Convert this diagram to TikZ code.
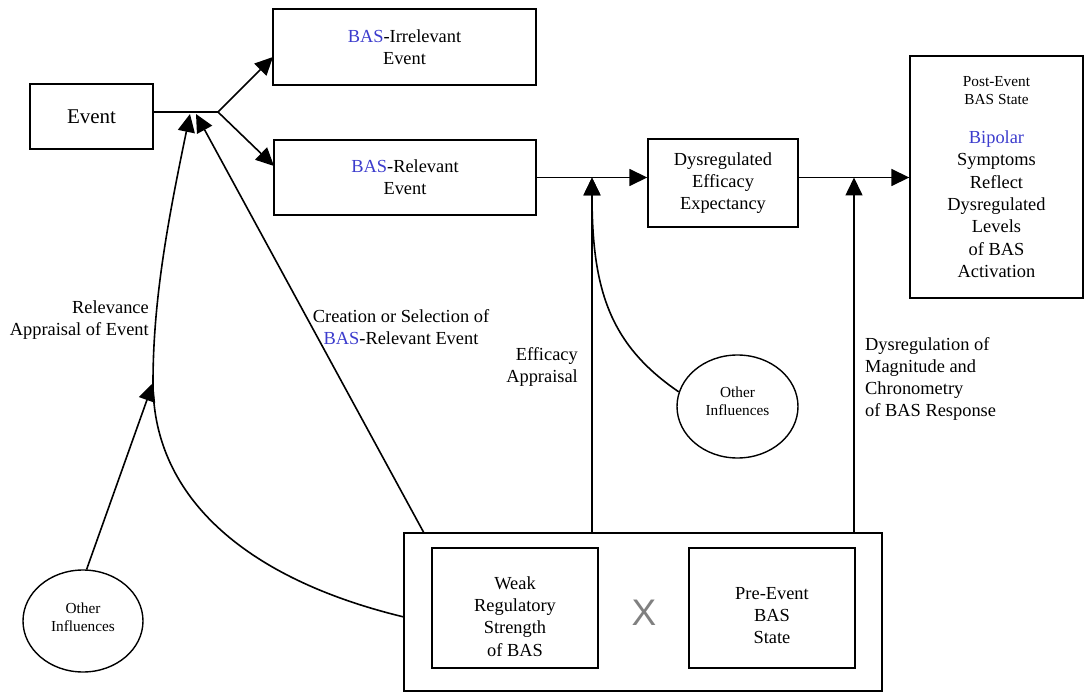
\documentclass[tikz,border=0pt]{standalone}
\usepackage{fontspec}
\setmainfont{Liberation Serif}
\setsansfont{Liberation Sans}
\usetikzlibrary{arrows.meta,shapes.geometric}
\definecolor{basblue}{RGB}{60,60,205}
\definecolor{xgray}{RGB}{128,128,128}
\newcommand{\basword}{\textcolor{basblue}{BAS}}
\newcommand{\smallf}{\fontsize{15.3}{18.5}\selectfont}
\begin{document}
\begin{tikzpicture}[x=1pt,y=-1pt,
  mainfont/.style={font=\fontsize{18.4}{22.3}\selectfont},
  box/.style={draw,line width=1.4pt,inner sep=0pt,align=center,mainfont},
  inbox/.style={draw,line width=2.4pt,inner sep=0pt},
  txt/.style={inner sep=0pt,align=center,mainfont},
  stxt/.style={inner sep=0pt,align=center,font=\smallf},
  oiell/.style={draw,ellipse,line width=1.4pt,inner sep=0pt},
  conn/.style={line width=1.6pt},
  arr/.style={conn,-{Triangle[length=18pt,width=17pt]}},
]
\useasboundingbox (0,0) rectangle (1084,692);

% boxes
\node[box,minimum width=123pt,minimum height=65pt,font=\fontsize{21}{25}\selectfont] (event) at (91.5,116.5) {Event};
\node[box,minimum width=263pt,minimum height=76pt] (irrel) at (404.5,47) {\basword-Irrelevant\\Event};
\node[box,line width=2pt,minimum width=262pt,minimum height=75pt] (relev) at (405,177.5) {\basword-Relevant\\Event};
\node[box,minimum width=150pt,minimum height=88pt] (dysreg) at (723,183) {Dysregulated\\Efficacy\\Expectancy};
\node[box,minimum width=173pt,minimum height=242pt] (post) at (996.5,177) {{\smallf Post-Event}\\[-4pt]{\smallf BAS State}\\[16.5pt]\textcolor{basblue}{Bipolar}\\Symptoms\\Reflect\\Dysregulated\\Levels\\of BAS\\Activation};

\node[draw,line width=1.1pt,minimum width=478pt,minimum height=158pt,inner sep=0pt] (outer) at (643,612) {};
\node[inbox,minimum width=166pt,minimum height=120pt] (weak) at (515,608) {};
\node[txt] (weaktxt) at (515,616.5) {Weak\\Regulatory\\Strength\\of BAS};
\node[inbox,minimum width=166pt,minimum height=120pt] (pre) at (772,608) {};
\node[txt] (pretxt) at (772,615.5) {Pre-Event\\BAS\\State};
\node[inner sep=0pt,font=\sffamily\fontsize{37}{40}\selectfont,text=xgray] (times) at (644,613) {X};

% ellipses
\node[oiell,minimum width=120pt,minimum height=102pt] (oi1) at (83,621) {};
\node[stxt] (oi1txt) at (83,617.3) {Other\\Influences};
\node[oiell,minimum width=121pt,minimum height=103pt] (oi2) at (737.5,406.5) {};
\node[stxt] (oi2txt) at (737.5,401.3) {Other\\Influences};

% labels
\node[txt,anchor=east,align=right] (lblrel) at (149,320) {Relevance\\Appraisal of Event};
\node[txt] (lblcre) at (401,327) {Creation or Selection of\\\basword-Relevant Event};
\node[txt,anchor=east,align=right] (lbleff) at (578,367) {Efficacy\\Appraisal};
\node[txt,anchor=west,align=left] (lbldys) at (865,379) {Dysregulation of\\Magnitude and\\Chronometry\\of BAS Response};

% coordinates
\coordinate (jct) at (218,112);
\coordinate (irrtip) at (273,57);
\coordinate (reltip) at (274,166);
\coordinate (apptip) at (190,114);
\coordinate (cretip) at (196,114);
\coordinate (effjoin) at (592,177.5);
\coordinate (dysjoin) at (854,177.5);
\coordinate (relstart) at (404,617);
\coordinate (crestart) at (424,533);
\coordinate (bend) at (153,383);

% connectors
\draw[conn] (event.east |- jct) -- (jct);
\draw[arr] (jct) -- (irrtip);
\draw[arr] (jct) -- (reltip);
\draw[arr] (relev.east) -- (relev.east -| dysreg.west);
\draw[arr] (dysreg.east |- relev.east) -- (post.west |- relev.east);
\draw[arr] (outer.north -| effjoin) -- (effjoin);
\draw[arr] (outer.north -| dysjoin) -- (dysjoin);
\draw[arr] (oi2.166) .. controls (610,345) and (592,290) .. (effjoin);
\draw[arr] (relstart) .. controls (250,580) and (153,500) .. (bend) .. controls (153,300) and (168,220) .. (apptip);
\draw[arr] (crestart) -- (cretip);
\draw[arr] (oi1.86) -- (bend);
\end{tikzpicture}
\end{document}
